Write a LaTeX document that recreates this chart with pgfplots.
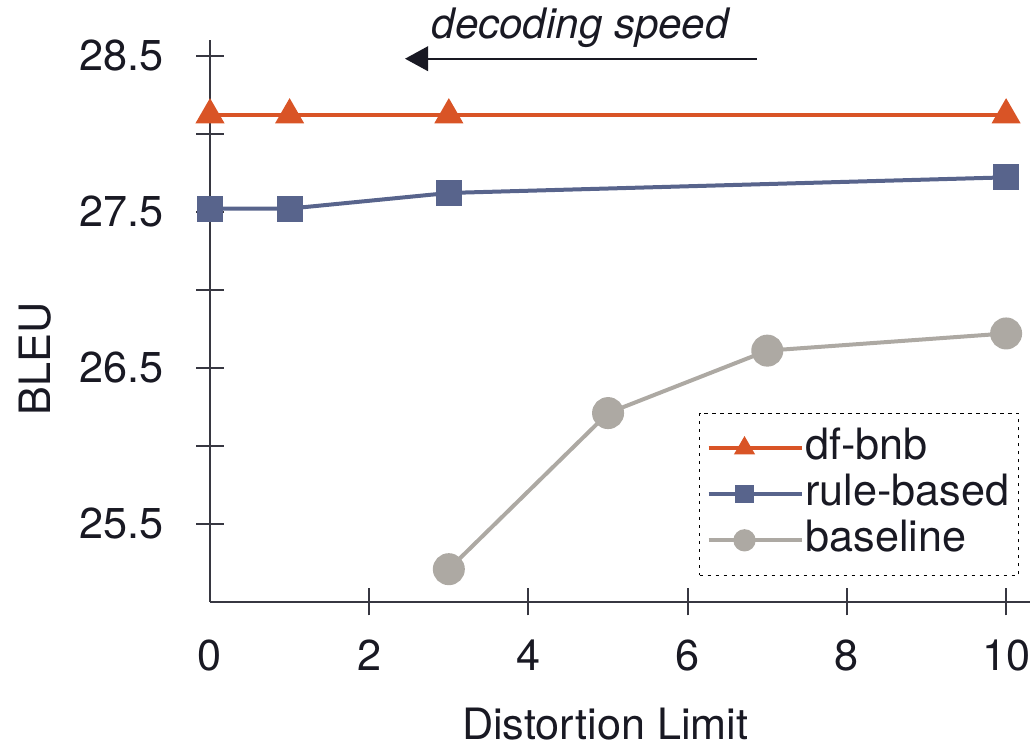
\documentclass[border=0pt]{standalone}
\usepackage{fontspec}
\setmainfont{TeX Gyre Heros}
\usepackage{pgfplots}
\pgfplotsset{compat=1.18}
\usetikzlibrary{arrows.meta}
\definecolor{axiscol}{RGB}{55, 55, 65}
\definecolor{txtcol}{RGB}{25, 25, 35}
\definecolor{bnbcol}{RGB}{217, 84, 38}
\definecolor{rulecol}{RGB}{88, 100, 140}
\definecolor{basecol}{RGB}{173, 169, 163}

\begin{document}
\begin{tikzpicture}[font=\fontsize{10.8}{13}\selectfont, text=txtcol]

  \begin{axis}[
      scale only axis,
      width=205pt, height=140.5pt,
      xmin=0, xmax=10.3,
      ymin=25, ymax=28.6,
      axis x line=bottom, axis y line=left,
      axis line style={-, draw=axiscol, line width=0.5pt},
      tick style={draw=axiscol, line width=0.5pt},
      tick align=center,
      major tick length=6.75pt,
      xtick={2,4,6,8,10},
      extra x ticks={0},
      extra x tick style={tick style={draw=none}},
      ytick={25.5,26,26.5,27,27.5,28,28.5},
      yticklabels={25.5,,26.5,,27.5,,28.5},
      xticklabel style={yshift=-2.6pt},
      yticklabel style={xshift=-4.6pt},
      /pgf/number format/assume math mode=true,
      xlabel={Distortion Limit},
      ylabel={BLEU},
      every axis x label/.style={at={(axis description cs:0.482,-0.217)}, anchor=center},
      every axis y label/.style={at={(axis description cs:-0.2134,0.432)}, rotate=90, anchor=center},
      legend style={at={(axis description cs:0.596,0.046)}, anchor=south west,
                    draw=black, dash pattern=on 0.8pt off 1.2pt, line width=0.4pt,
                    inner xsep=1.75pt, inner ysep=3pt, row sep=0pt,
                    nodes={inner sep=0.5pt, text height=8pt, text depth=2.5pt}},
      legend cell align=left,
      legend image code/.code={
        \path (-2.75pt,0pt) -- (20.5pt,0pt);
        \draw[#1, solid, mark=none] (0pt,0pt) -- (12.5pt,0pt);
        \draw[#1, solid, only marks, every mark/.append style={scale=0.65}]
          plot coordinates {(6.25pt,0pt)};
      },
      clip=false,
  ]

    \addplot[bnbcol, line width=1pt, mark=triangle*, mark size=3.2pt,
             mark options={fill=bnbcol, draw=bnbcol}]
      coordinates {(0,28.12) (1,28.12) (3,28.12) (10,28.12)};
    \addlegendentry{df-bnb}

    \addplot[rulecol, line width=1pt, mark=square*, mark size=2.75pt,
             mark options={fill=rulecol, draw=rulecol}]
      coordinates {(0,27.52) (1,27.52) (3,27.62) (10,27.72)};
    \addlegendentry{rule-based}

    \addplot[basecol, line width=1pt, mark=*, mark size=3.5pt,
             mark options={fill=basecol, draw=basecol}]
      coordinates {(3,25.21) (5,26.21) (7,26.61) (10,26.72)};
    \addlegendentry{baseline}

    % speed arrow
    \draw[-{Triangle[length=5.8pt, width=6.2pt]}, line width=0.5pt, draw=txtcol, fill=txtcol]
      (axis cs:6.87,28.48) -- (axis cs:2.45,28.48);
    \node[anchor=base, font=\fontsize{10.5}{12}\selectfont\itshape]
      at (axis cs:4.65,28.607) {decoding speed};

  \end{axis}

  \pgfresetboundingbox
  \path ([xshift=-52.5pt, yshift=-35.5pt]current axis.south west)
    rectangle ([yshift=10pt]current axis.north east);

\end{tikzpicture}
\end{document}
